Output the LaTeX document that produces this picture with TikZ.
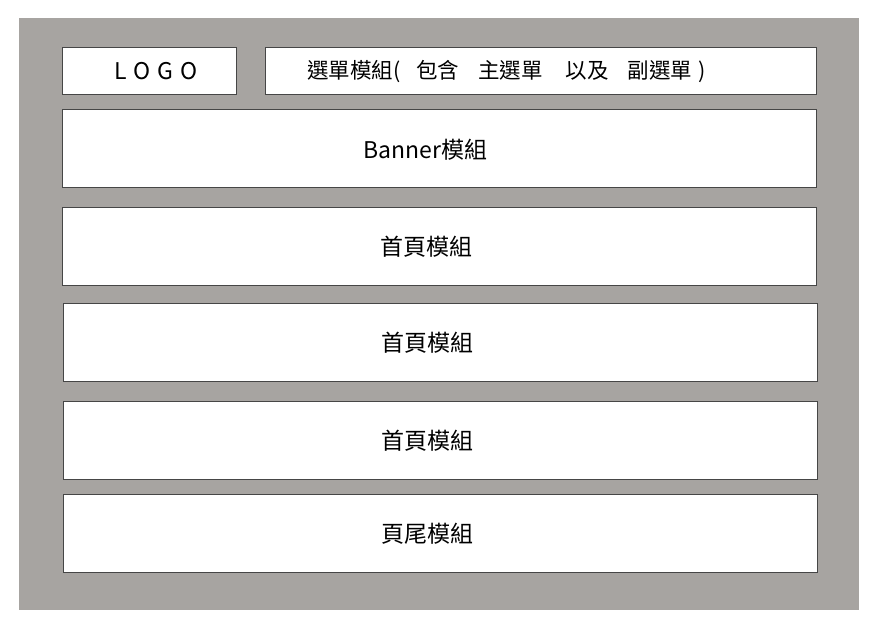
\documentclass[tikz,border=0pt]{standalone}
\usepackage{fontspec}
\setmainfont{Noto Sans CJK TC}
\usepackage{tikz}

\definecolor{pagegray}{RGB}{167,164,161}
\definecolor{edgegray}{RGB}{70,70,70}

\tikzset{
  block/.style={draw=edgegray, line width=1pt, fill=white, inner sep=0pt},
  wide/.style={block, minimum width=754pt, minimum height=77.5pt},
  txt/.style={inner sep=0pt, font=\fontsize{23}{27}\selectfont},
  menutxt/.style={inner sep=0pt, font=\fontsize{21.5}{25}\selectfont}
}

\begin{document}
\begin{tikzpicture}[x=1pt,y=-1pt]
\useasboundingbox (0,0) rectangle (889,630);
\fill[pagegray] (19,18) rectangle (859,610);

% top row
\node[block, minimum width=174pt, minimum height=47pt] (logo) at (149.5,70.5) {};
\node[block, minimum width=551pt, minimum height=47pt] (menu) at (541,70.5) {};
\node[txt] (logotext) at (156,71) {\addfontfeature{LetterSpace=30}LOGO};
\node[menutxt, anchor=west] (menutext) at (307,72)
  {選單模組(\hspace{16pt}包含\hspace{19pt}主選單\hspace{23pt}以及\hspace{19pt}副選單\hspace{6pt})};

% modules
\node[wide] (banner) at (439.5,148.25) {};
\node[wide] (home1) at (439.5,246.25) {};
\node[wide] (home2) at (440.5,342.25) {};
\node[wide] (home3) at (440.5,440.25) {};
\node[wide] (footer) at (440.5,533.25) {};

\node[txt, xshift=-14pt, yshift=-1pt] at (banner) {Banner模組};
\node[txt, xshift=-13pt] at (home1) {首頁模組};
\node[txt, xshift=-13pt] at (home2) {首頁模組};
\node[txt, xshift=-13pt] at (home3) {首頁模組};
\node[txt, xshift=-13pt] at (footer) {頁尾模組};
\end{tikzpicture}
\end{document}
